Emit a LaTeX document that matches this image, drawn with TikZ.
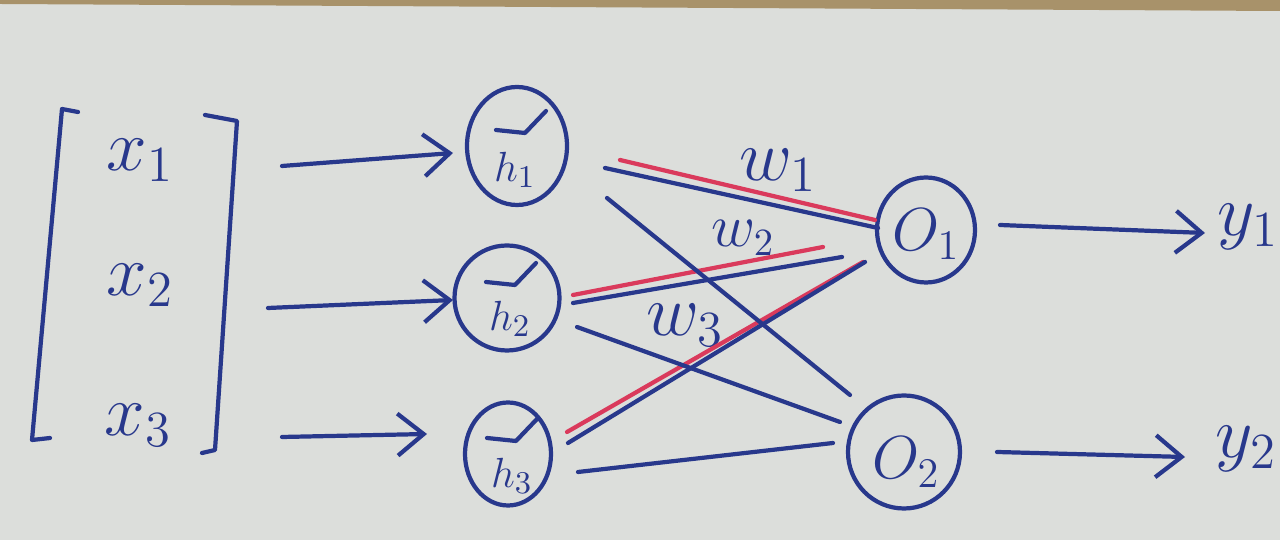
\documentclass[tikz,border=0pt]{standalone}
\usepackage{amsmath}
\usepackage{xcolor}
\usepackage{tikz}
\usetikzlibrary{arrows.meta,shapes.geometric}
\definecolor{ink}{RGB}{40,56,140}
\definecolor{redink}{RGB}{218,58,92}
\definecolor{paper}{RGB}{220,222,219}
\definecolor{wood}{RGB}{168,146,106}
\newcommand{\relu}[1]{\draw[pen] ([shift={(-21,-16)}]#1.center) -- ++(29,3) -- ++(21,-22);}

\begin{document}
\begin{tikzpicture}[x=0.1mm,y=-0.1mm,
  pen/.style={draw=ink,line width=1.2pt,line cap=round,line join=round},
  redpen/.style={draw=redink,line width=1.2pt,line cap=round},
  arr/.style={pen,-{Straight Barb[length=2.6mm,width=4.2mm,line width=1.2pt]}},
  neuron/.style={ellipse,draw=ink,line width=1.2pt,inner sep=0pt},
  txt/.style={text=ink,inner sep=0pt}]
\useasboundingbox (0,0) rectangle (1280,540);
\clip (0,0) rectangle (1280,540);
\fill[paper] (0,0) rectangle (1280,540);
\fill[wood] (0,0) -- (1280,0) -- (1280,11) -- (0,4) -- cycle;%
% input vector
\draw[pen] (78,112) -- (62,109) -- (32,440) -- (50,438);
\draw[pen] (205,115) -- (237,121) -- (215,450) -- (202,453);
\node[txt,font=\fontsize{22}{26}\selectfont] (x1) at (140,160) {$x_{1}$};
\node[txt,font=\fontsize{22}{26}\selectfont] (x2) at (140,285) {$x_{2}$};
\node[txt,font=\fontsize{22}{26}\selectfont] (x3) at (138,425) {$x_{3}$};
% hidden layer
\node[neuron,minimum width=10mm,minimum height=11.8mm] (h1) at (517,146) {};
\node[neuron,minimum width=10.5mm,minimum height=10.5mm] (h2) at (507,298) {};
\node[neuron,minimum width=8.6mm,minimum height=10.3mm] (h3) at (508,454) {};
\relu{h1}\relu{h2}\relu{h3}
\node[txt,font=\fontsize{13}{16}\selectfont] (lh1) at ([shift={(-2,24)}]h1.center) {$h_{1}$};
\node[txt,font=\fontsize{13}{16}\selectfont] (lh2) at ([shift={(3,21)}]h2.center) {$h_{2}$};
\node[txt,font=\fontsize{13}{16}\selectfont] (lh3) at ([shift={(4,22)}]h3.center) {$h_{3}$};
% output layer
\node[neuron,minimum width=9.8mm,minimum height=10.5mm] (o1) at (926,230) {};
\node[neuron,minimum width=11.2mm,minimum height=11.3mm] (o2) at (904,452) {};
\node[txt,font=\fontsize{18}{22}\selectfont] (lo1) at ([shift={(0,4)}]o1.center) {$O_{1}$};
\node[txt,font=\fontsize{18}{22}\selectfont] (lo2) at ([shift={(2,10)}]o2.center) {$O_{2}$};
\node[txt,font=\fontsize{22}{26}\selectfont] (y1) at (1248,227) {$y_{1}$};
\node[txt,font=\fontsize{22}{26}\selectfont] (y2) at (1246,449) {$y_{2}$};
% weights
\node[txt,font=\fontsize{20}{24}\selectfont] (w1) at (778,170) {$w_{1}$};
\node[txt,font=\fontsize{16}{20}\selectfont] (w2) at (743,238) {$w_{2}$};
\node[txt,font=\fontsize{20}{24}\selectfont] (w3) at (685,325) {$w_{3}$};
% arrows in and out
\draw[arr] ([shift={(142,6)}]x1.center) -- ([shift={(-64,7)}]h1.center);
\draw[arr] ([shift={(128,23)}]x2.center) -- ([shift={(-54,2)}]h2.center);
\draw[arr] ([shift={(144,12)}]x3.center) -- ([shift={(-81,-20)}]h3.center);
\draw[arr] ([shift={(74,-5)}]o1.center) -- ([shift={(-43,6)}]y1.center);
\draw[arr] ([shift={(93,0)}]o2.center) -- ([shift={(-61,8)}]y2.center);
% connections, red ones are the weights into o1
\draw[redpen] ([shift={(103,14)}]h1.center) -- ([shift={(-51,-10)}]o1.center);
\draw[redpen] ([shift={(66,-3)}]h2.center) -- ([shift={(-103,17)}]o1.center);
\draw[redpen] ([shift={(59,-22)}]h3.center) -- ([shift={(-63,32)}]o1.center);
\draw[pen] ([shift={(88,22)}]h1.center) -- ([shift={(-48,-2)}]o1.center);
\draw[pen] ([shift={(90,52)}]h1.center) -- ([shift={(-54,-57)}]o2.center);
\draw[pen] ([shift={(66,5)}]h2.center) -- ([shift={(-84,27)}]o1.center);
\draw[pen] ([shift={(70,29)}]h2.center) -- ([shift={(-64,-30)}]o2.center);
\draw[pen] ([shift={(60,-11)}]h3.center) -- ([shift={(-61,32)}]o1.center);
\draw[pen] ([shift={(70,18)}]h3.center) -- ([shift={(-71,-9)}]o2.center);
\end{tikzpicture}
\end{document}
